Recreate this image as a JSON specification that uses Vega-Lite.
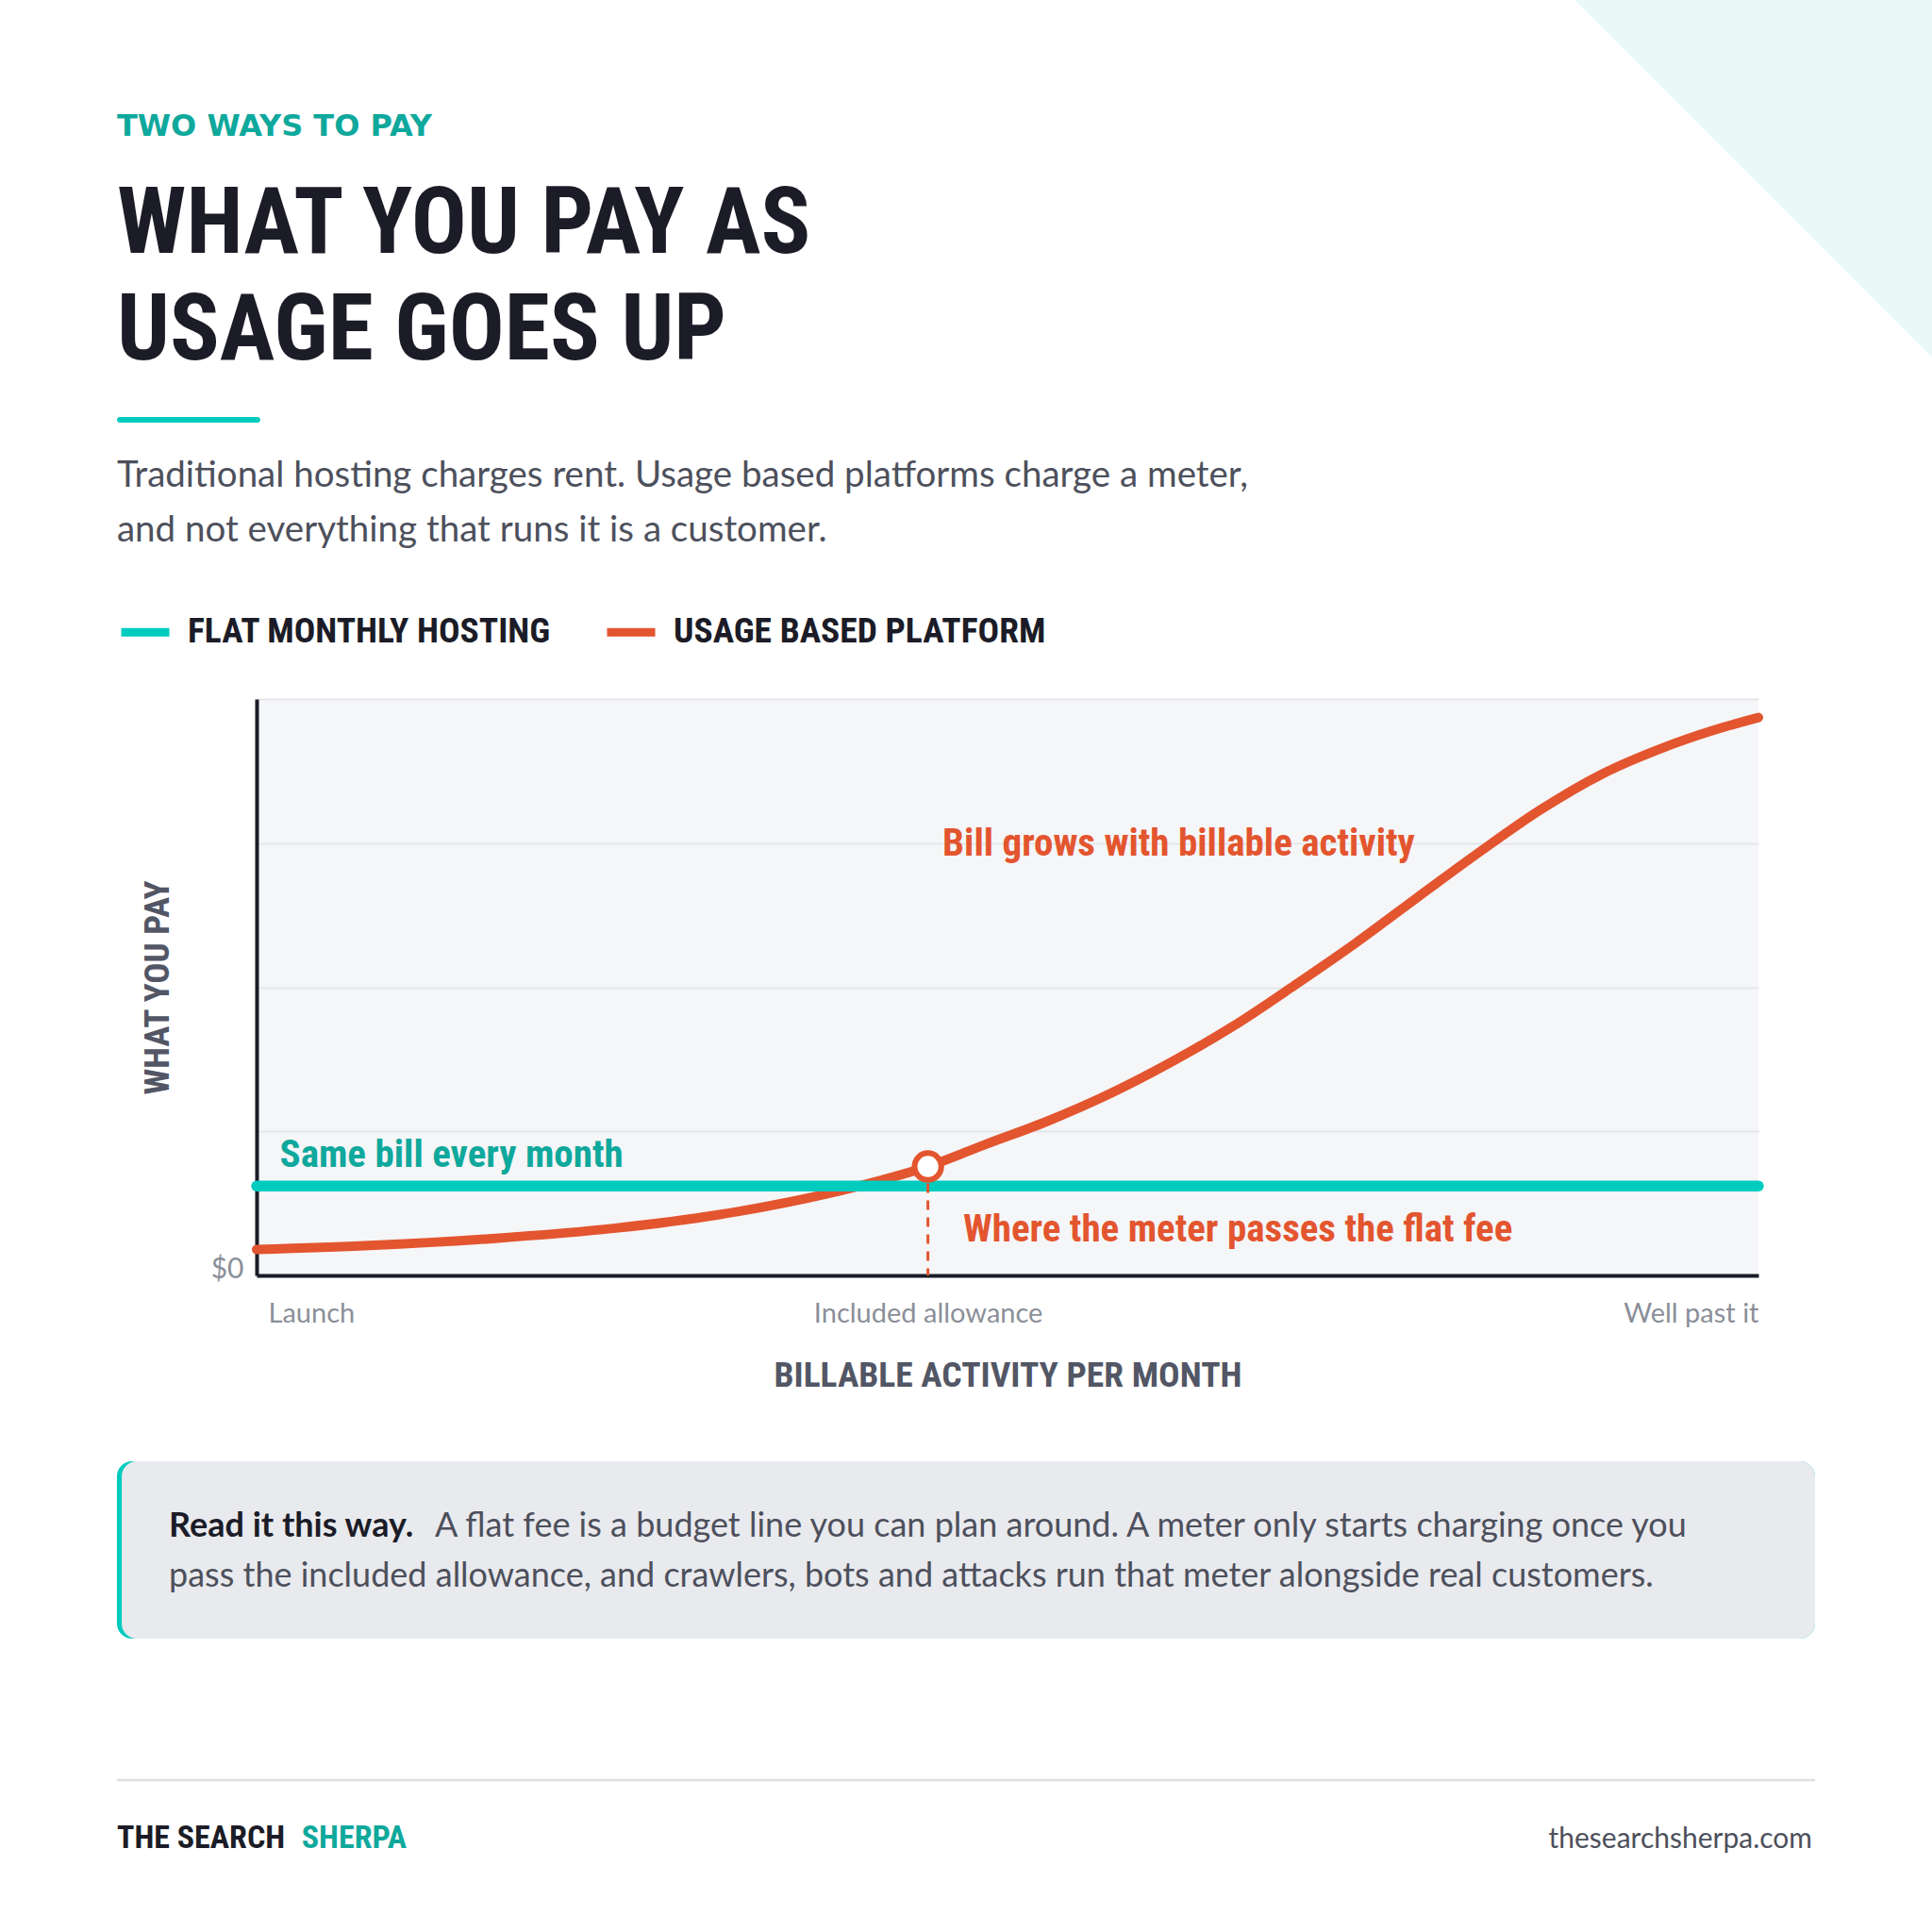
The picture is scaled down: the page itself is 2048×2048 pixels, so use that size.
{
  "$schema": "https://vega.github.io/schema/vega-lite/v6.json",
  "autosize": {"type": "none"},
  "width": 1592,
  "height": 611,
  "padding": {"left": 272, "top": 741, "right": 184, "bottom": 696},
  "background": "#ffffff",
  "config": {"view": {"fill": "#f5f6f8", "stroke": null}},
  "datasets": {
    "usage": [
      {"x": 0, "y": 4.5, "series": "USAGE BASED PLATFORM"},
      {"x": 7.5, "y": 5.2, "series": "USAGE BASED PLATFORM"},
      {"x": 15.7, "y": 6.4, "series": "USAGE BASED PLATFORM"},
      {"x": 23.9, "y": 8.2, "series": "USAGE BASED PLATFORM"},
      {"x": 32.1, "y": 11.1, "series": "USAGE BASED PLATFORM"},
      {"x": 40.1, "y": 15.5, "series": "USAGE BASED PLATFORM"},
      {"x": 44.7, "y": 18.9, "series": "USAGE BASED PLATFORM"},
      {"x": 48.5, "y": 22.7, "series": "USAGE BASED PLATFORM"},
      {"x": 52.7, "y": 26.8, "series": "USAGE BASED PLATFORM"},
      {"x": 56.8, "y": 31.5, "series": "USAGE BASED PLATFORM"},
      {"x": 60.9, "y": 37.0, "series": "USAGE BASED PLATFORM"},
      {"x": 65.0, "y": 43.2, "series": "USAGE BASED PLATFORM"},
      {"x": 69.1, "y": 50.3, "series": "USAGE BASED PLATFORM"},
      {"x": 73.2, "y": 57.7, "series": "USAGE BASED PLATFORM"},
      {"x": 77.3, "y": 65.6, "series": "USAGE BASED PLATFORM"},
      {"x": 81.4, "y": 73.4, "series": "USAGE BASED PLATFORM"},
      {"x": 85.5, "y": 80.8, "series": "USAGE BASED PLATFORM"},
      {"x": 89.6, "y": 87.0, "series": "USAGE BASED PLATFORM"},
      {"x": 93.7, "y": 91.6, "series": "USAGE BASED PLATFORM"},
      {"x": 97.8, "y": 95.2, "series": "USAGE BASED PLATFORM"},
      {"x": 100, "y": 96.8, "series": "USAGE BASED PLATFORM"}
    ],
    "flat": [
      {"x": 0, "y": 15.5, "series": "FLAT MONTHLY HOSTING"},
      {"x": 100, "y": 15.5, "series": "FLAT MONTHLY HOSTING"}
    ],
    "crossing": [{"x": 44.7, "y": 18.9}],
    "one": [{}]
  },
  "data": {"name": "one"},
  "layer": [
    {
      "data": {"name": "usage"},
      "mark": {"type": "line", "strokeWidth": 10, "strokeCap": "round", "interpolate": "monotone"},
      "encoding": {
        "x": {
          "field": "x", "type": "quantitative",
          "scale": {"domain": [0, 100], "nice": false, "zero": false},
          "axis": {
            "values": [0, 44.7, 100],
            "grid": false, "ticks": false,
            "domainColor": "#1b1c27", "domainWidth": 4,
            "labelExpr": "datum.value == 0 ? 'Launch' : datum.value == 100 ? 'Well past it' : 'Included allowance'",
            "labelFlush": true, "labelLimit": 500,
            "labelOffset": {"condition": {"test": "datum.value == 0", "value": 12}, "value": 0},
            "labelFont": "Lato, sans-serif", "labelFontSize": 29, "labelColor": "#8b8f99",
            "labelPadding": 26,
            "title": "BILLABLE ACTIVITY PER MONTH",
            "titleFont": "'Roboto Condensed', 'Liberation Sans Narrow', 'DejaVu Sans Condensed', sans-serif",
            "titleFontSize": 37.5, "titleFontWeight": "bold", "titleColor": "#525665",
            "titleX": 796, "titleY": 117, "titleAlign": "center", "titleBaseline": "alphabetic"
          }
        },
        "y": {
          "field": "y", "type": "quantitative",
          "scale": {"domain": [0, 100], "nice": false, "zero": false},
          "axis": {
            "values": [0, 25, 50, 75, 100],
            "grid": true, "gridColor": "#e4e6ea", "gridWidth": 2,
            "ticks": false,
            "domainColor": "#1b1c27", "domainWidth": 4,
            "labelExpr": "datum.value == 0 ? '$0' : ''",
            "labelFlush": false,
            "labelOffset": -7,
            "labelFont": "Lato, sans-serif", "labelFontSize": 30, "labelColor": "#8b8f99",
            "labelPadding": 14,
            "title": "WHAT YOU PAY",
            "titleFont": "'Roboto Condensed', 'Liberation Sans Narrow', 'DejaVu Sans Condensed', sans-serif",
            "titleFontSize": 37, "titleFontWeight": "bold", "titleColor": "#525665",
            "titleX": -105, "titleY": 305.5, "titleAngle": 270, "titleAlign": "center", "titleBaseline": "middle"
          }
        },
        "color": {
          "field": "series", "type": "nominal",
          "scale": {"domain": ["FLAT MONTHLY HOSTING", "USAGE BASED PLATFORM"], "range": ["#00cbbf", "#e3552f"]},
          "legend": {
            "title": null, "orient": "none", "legendX": -148, "legendY": -101,
            "direction": "horizontal",
            "symbolType": "stroke", "symbolStrokeWidth": 9, "symbolSize": 2601,
            "labelFont": "'Roboto Condensed', 'Liberation Sans Narrow', 'DejaVu Sans Condensed', sans-serif",
            "labelFontSize": 37.5, "labelFontWeight": "bold", "labelColor": "#1b1c27",
            "labelOffset": 15, "columnPadding": 40, "labelLimit": 0, "padding": 0
          }
        }
      }
    },
    {
      "data": {"name": "flat"},
      "mark": {"type": "line", "strokeWidth": 11.5, "strokeCap": "round"},
      "encoding": {
        "x": {"field": "x", "type": "quantitative"},
        "y": {"field": "y", "type": "quantitative"},
        "color": {"field": "series", "type": "nominal"}
      }
    },
    {
      "mark": {"type": "point", "shape": "M-1,-1L1,-1L1,1Z", "size": 160000, "filled": true, "fill": "#eaf9f8", "strokeWidth": 0, "opacity": 1},
      "encoding": {
        "x": {"datum": 100.31, "type": "quantitative"},
        "y": {"datum": 188.54, "type": "quantitative"}
      }
    },
    {
      "data": {"name": "crossing"},
      "mark": {"type": "rule", "color": "#e3552f", "strokeDash": [10, 8], "strokeWidth": 3},
      "encoding": {
        "x": {"field": "x", "type": "quantitative"},
        "y": {"field": "y", "type": "quantitative"},
        "y2": {"datum": 0, "type": "quantitative"}
      }
    },
    {
      "data": {"name": "crossing"},
      "mark": {"type": "point", "shape": "circle", "size": 800, "filled": true, "fill": "#ffffff", "stroke": "#e3552f", "strokeWidth": 6, "opacity": 1},
      "encoding": {
        "x": {"field": "x", "type": "quantitative"},
        "y": {"field": "y", "type": "quantitative"}
      }
    },
    {
      "mark": {"type": "text", "text": "Same bill every month", "align": "left", "baseline": "alphabetic", "font": "'Roboto Condensed', 'Liberation Sans Narrow', 'DejaVu Sans Condensed', sans-serif", "fontSize": 41, "fontWeight": "bold", "color": "#0fa89c"},
      "encoding": {"x": {"datum": 1.54, "type": "quantitative"}, "y": {"datum": 18.82, "type": "quantitative"}}
    },
    {
      "mark": {"type": "text", "text": "Bill grows with billable activity", "align": "left", "baseline": "alphabetic", "font": "'Roboto Condensed', 'Liberation Sans Narrow', 'DejaVu Sans Condensed', sans-serif", "fontSize": 41, "fontWeight": "bold", "color": "#e3552f"},
      "encoding": {"x": {"datum": 45.67, "type": "quantitative"}, "y": {"datum": 72.75, "type": "quantitative"}}
    },
    {
      "mark": {"type": "text", "text": "Where the meter passes the flat fee", "align": "left", "baseline": "alphabetic", "font": "'Roboto Condensed', 'Liberation Sans Narrow', 'DejaVu Sans Condensed', sans-serif", "fontSize": 41, "fontWeight": "bold", "color": "#e3552f"},
      "encoding": {"x": {"datum": 47.05, "type": "quantitative"}, "y": {"datum": 5.94, "type": "quantitative"}}
    },
    {
      "mark": {"type": "text", "text": "TWO WAYS TO PAY", "align": "left", "baseline": "alphabetic", "font": "DejaVu Sans, sans-serif", "fontSize": 32, "fontWeight": "bold", "color": "#0fa89c"},
      "encoding": {"x": {"datum": -9.3, "type": "quantitative"}, "y": {"datum": 197.71, "type": "quantitative"}}
    },
    {
      "mark": {"type": "text", "text": ["WHAT YOU PAY AS", "USAGE GOES UP"], "lineHeight": 113, "align": "left", "baseline": "alphabetic", "font": "'Roboto Condensed', 'Liberation Sans Narrow', 'DejaVu Sans Condensed', sans-serif", "fontSize": 98, "fontWeight": "bold", "color": "#1b1c27"},
      "encoding": {"x": {"datum": -9.3, "type": "quantitative"}, "y": {"datum": 177.41, "type": "quantitative"}}
    },
    {
      "mark": {"type": "rect", "color": "#00cbbf", "cornerRadius": 3},
      "encoding": {
        "x": {"datum": -9.3, "type": "quantitative"}, "x2": {"datum": 0.25, "type": "quantitative"},
        "y": {"datum": 148.94, "type": "quantitative"}, "y2": {"datum": 147.95, "type": "quantitative"}
      }
    },
    {
      "mark": {"type": "text", "text": ["Traditional hosting charges rent. Usage based platforms charge a meter,", "and not everything that runs it is a customer."], "lineHeight": 58, "align": "left", "baseline": "alphabetic", "font": "Lato, sans-serif", "fontSize": 38.5, "color": "#4d505c"},
      "encoding": {"x": {"datum": -9.3, "type": "quantitative"}, "y": {"datum": 136.82, "type": "quantitative"}}
    },
    {
      "mark": {"type": "rect", "color": "#00cbbf", "cornerRadius": 16},
      "encoding": {
        "x": {"datum": -9.3, "type": "quantitative"}, "x2": {"datum": 103.77, "type": "quantitative"},
        "y": {"datum": -32.24, "type": "quantitative"}, "y2": {"datum": -63.01, "type": "quantitative"}
      }
    },
    {
      "mark": {"type": "rect", "color": "#e9eaee", "cornerRadius": 16},
      "encoding": {
        "x": {"datum": -8.98, "type": "quantitative"}, "x2": {"datum": 103.77, "type": "quantitative"},
        "y": {"datum": -32.24, "type": "quantitative"}, "y2": {"datum": -63.01, "type": "quantitative"}
      }
    },
    {
      "mark": {"type": "text", "text": "Read it this way.", "align": "left", "baseline": "alphabetic", "font": "Lato, sans-serif", "fontSize": 36, "fontWeight": "bold", "color": "#1b1c27"},
      "encoding": {"x": {"datum": -5.84, "type": "quantitative"}, "y": {"datum": -45.34, "type": "quantitative"}}
    },
    {
      "mark": {"type": "text", "text": "A flat fee is a budget line you can plan around. A meter only starts charging once you", "align": "left", "baseline": "alphabetic", "font": "Lato, sans-serif", "fontSize": 36, "color": "#4d505c"},
      "encoding": {"x": {"datum": 11.87, "type": "quantitative"}, "y": {"datum": -45.34, "type": "quantitative"}}
    },
    {
      "mark": {"type": "text", "text": "pass the included allowance, and crawlers, bots and attacks run that meter alongside real customers.", "align": "left", "baseline": "alphabetic", "font": "Lato, sans-serif", "fontSize": 36, "color": "#4d505c"},
      "encoding": {"x": {"datum": -5.84, "type": "quantitative"}, "y": {"datum": -54.01, "type": "quantitative"}}
    },
    {
      "mark": {"type": "rule", "color": "#dedede", "strokeWidth": 2.5},
      "encoding": {
        "x": {"datum": -9.3, "type": "quantitative"}, "x2": {"datum": 103.77, "type": "quantitative"},
        "y": {"datum": -87.56, "type": "quantitative"}
      }
    },
    {
      "mark": {"type": "text", "text": "THE SEARCH", "align": "left", "baseline": "alphabetic", "font": "'Roboto Condensed', 'Liberation Sans Narrow', 'DejaVu Sans Condensed', sans-serif", "fontSize": 34, "fontWeight": "bold", "color": "#1b1c27"},
      "encoding": {"x": {"datum": -9.3, "type": "quantitative"}, "y": {"datum": -99.35, "type": "quantitative"}}
    },
    {
      "mark": {"type": "text", "text": "SHERPA", "align": "left", "baseline": "alphabetic", "font": "'Roboto Condensed', 'Liberation Sans Narrow', 'DejaVu Sans Condensed', sans-serif", "fontSize": 34, "fontWeight": "bold", "color": "#0fa89c"},
      "encoding": {"x": {"datum": 3.0, "type": "quantitative"}, "y": {"datum": -99.35, "type": "quantitative"}}
    },
    {
      "mark": {"type": "text", "text": "thesearchsherpa.com", "align": "right", "baseline": "alphabetic", "font": "Lato, sans-serif", "fontSize": 30, "color": "#4d505c"},
      "encoding": {"x": {"datum": 103.58, "type": "quantitative"}, "y": {"datum": -99.35, "type": "quantitative"}}
    }
  ]
}
